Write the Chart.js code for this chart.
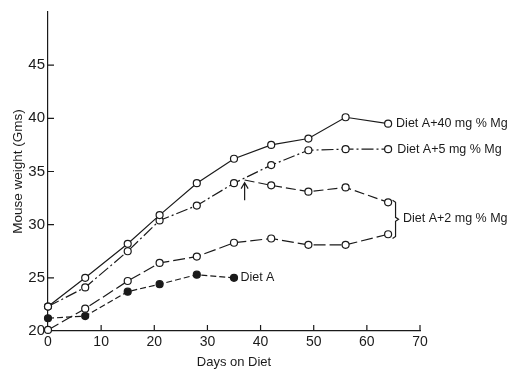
<!DOCTYPE html>
<html>
<head>
<meta charset="utf-8">
<script src="https://cdn.jsdelivr.net/npm/chart.js"></script>
<style>
  body { margin: 0; background: #fff; }
  canvas { display: block; }
</style>
</head>
<body>
<canvas id="myChart" width="511" height="370"></canvas>
<script>
// Weights (grams), days on diet
const days = [0, 7, 15, 21, 28, 35, 42, 49, 56, 64];
const mg40 = [22.3, 25.0, 28.2, 30.9, 33.9, 36.2, 37.5, 38.1, 40.1, 39.5];
const mg5 = [22.3, 24.1, 27.5, 30.4, 31.8, 33.9, 35.6, 37.0, 37.1, 37.1];
const mg2Lower = [20.1, 22.1, 24.7, 26.4, 27.0, 28.3, 28.7, 28.1, 28.1, 29.1];
const mg2UpperDays = [37, 42, 49, 56, 64];
const mg2Upper = [34.2, 33.7, 33.1, 33.5, 32.1];
const dietADays = [0, 7, 15, 21, 28, 35];
const dietA = [21.2, 21.4, 23.7, 24.4, 25.3, 25.0];

const xTicks = [0, 10, 20, 30, 40, 50, 60, 70];
const yTicks = [20, 25, 30, 35, 40, 45];

const ink = '#1a1a1a';
const font = 'Liberation Sans';

function pts(xs, ys) {
    return xs.map((x, i) => ({ x: x, y: ys[i] }));
}

function series(label, data, dash, filled) {
    return {
        label: label,
        data: data,
        borderColor: ink,
        borderWidth: 1.2,
        borderDash: dash,
        pointRadius: 3.5,
        pointBorderWidth: 1.2,
        pointBorderColor: ink,
        pointBackgroundColor: filled ? ink : '#fff',
        tension: 0,
        clip: false
    };
}

const upper = series('Diet A+2 mg % Mg (upper)', pts(mg2UpperDays, mg2Upper), [10, 4], false);
upper.pointRadius = mg2UpperDays.map((d, i) => i === 0 ? 0 : 3.5);

// inward tick marks, arrow, bracket and line labels
const decorations = {
    id: 'decorations',
    afterDatasetsDraw(chart) {
        const ctx = chart.ctx;
        const xs = chart.scales.x, ys = chart.scales.y;
        const area = chart.chartArea;
        ctx.save();
        ctx.strokeStyle = ink;
        ctx.lineWidth = 1.2;
        ctx.setLineDash([]);
        ctx.beginPath();
        xTicks.slice(1).forEach(v => {
            const px = xs.getPixelForValue(v);
            ctx.moveTo(px, area.bottom);
            ctx.lineTo(px, area.bottom - 6);
        });
        yTicks.slice(1).forEach(v => {
            const py = ys.getPixelForValue(v);
            ctx.moveTo(area.left, py);
            ctx.lineTo(area.left + 6, py);
        });
        ctx.stroke();

        // arrow where the 2 mg group was switched
        const ax = xs.getPixelForValue(37);
        const aTop = ys.getPixelForValue(33.95);
        const aBot = ys.getPixelForValue(32.3);
        ctx.beginPath();
        ctx.moveTo(ax, aBot);
        ctx.lineTo(ax, aTop);
        ctx.moveTo(ax - 3.5, aTop + 6);
        ctx.lineTo(ax, aTop);
        ctx.lineTo(ax + 3.5, aTop + 6);
        ctx.stroke();

        // bracket grouping the two 2 mg curves
        const bx = xs.getPixelForValue(65.4);
        const bTop = ys.getPixelForValue(32.3);
        const bBot = ys.getPixelForValue(28.7);
        const bMid = (bTop + bBot) / 2;
        ctx.beginPath();
        ctx.moveTo(bx - 3, bTop);
        ctx.lineTo(bx, bTop + 2);
        ctx.lineTo(bx, bMid - 2);
        ctx.lineTo(bx + 3, bMid);
        ctx.lineTo(bx, bMid + 2);
        ctx.lineTo(bx, bBot - 2);
        ctx.lineTo(bx - 3, bBot);
        ctx.stroke();

        ctx.fillStyle = ink;
        ctx.font = '12.5px "' + font + '"';
        ctx.textBaseline = 'middle';
        ctx.textAlign = 'left';
        const labels = [
            ['Diet A+40 mg % Mg', 65.5, 39.5],
            ['Diet A+5 mg % Mg', 65.7, 37.05],
            ['Diet A+2 mg % Mg', 66.8, 30.6],
            ['Diet A', 36.2, 25.0]
        ];
        labels.forEach(l => {
            ctx.fillText(l[0], xs.getPixelForValue(l[1]), ys.getPixelForValue(l[2]));
        });
        ctx.restore();
    }
};

const ctx = document.getElementById('myChart').getContext('2d');
window.myChart = new Chart(ctx, {
    type: 'line',
    data: {
        datasets: [
            series('Diet A+40 mg % Mg', pts(days, mg40), [], false),
            series('Diet A+5 mg % Mg', pts(days, mg5), [12, 3, 2, 3], false),
            upper,
            series('Diet A+2 mg % Mg', pts(days, mg2Lower), [12, 4], false),
            series('Diet A', pts(dietADays, dietA), [6, 3], true)
        ]
    },
    options: {
        responsive: false,
        animation: false,
        layout: { padding: { top: 12, right: 91, left: 0, bottom: 0 } },
        plugins: {
            legend: { display: false },
            tooltip: { enabled: false }
        },
        scales: {
            x: {
                type: 'linear',
                min: 0,
                max: 70,
                afterBuildTicks: s => { s.ticks = xTicks.map(v => ({ value: v })); },
                afterFit: s => { s.height = 39; },
                grid: { drawOnChartArea: false, drawTicks: false },
                border: { color: ink, width: 1.2 },
                ticks: { color: ink, padding: 3, font: { family: font, size: 14 } },
                title: {
                    display: true,
                    text: 'Days on Diet',
                    color: ink,
                    font: { family: font, size: 13 },
                    padding: { top: 0, bottom: 0 }
                }
            },
            y: {
                min: 20,
                max: 50,
                afterBuildTicks: s => { s.ticks = yTicks.map(v => ({ value: v })); },
                afterFit: s => { s.width = 48; },
                grid: { drawOnChartArea: false, drawTicks: false },
                border: { color: ink, width: 1.2 },
                ticks: { color: ink, padding: 3, font: { family: font, size: 15 } },
                title: {
                    display: true,
                    text: 'Mouse weight (Gms)',
                    color: ink,
                    font: { family: font, size: 13.5 },
                    padding: { top: 10, bottom: 0 }
                }
            }
        }
    },
    plugins: [decorations]
});
</script>
</body>
</html>
